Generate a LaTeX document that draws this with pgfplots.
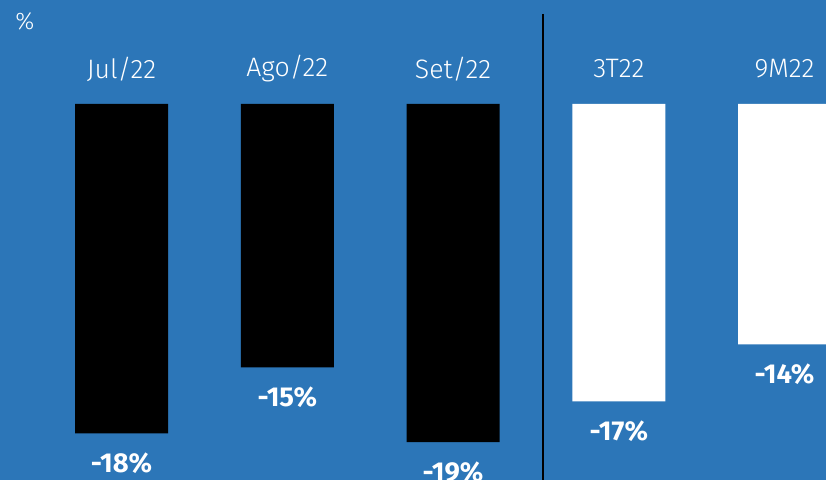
\documentclass[border=0pt]{standalone}
\usepackage{pgfplots}
\pgfplotsset{compat=1.18}
\usepackage{fontspec}
\setmainfont{Fira Sans}
\newfontfamily\lightfont{Fira Sans Light}
\definecolor{bgblue}{RGB}{44,118,184}

\begin{document}
\begin{tikzpicture}
\begin{axis}[
  scale only axis, width=619.5pt, height=360pt,
  xmin=-0.733, xmax=4.25, ymin=-21.124, ymax=5.843,
  axis background/.style={fill=bgblue},
  axis line style={draw=none},
  ytick=\empty,
  xtick={0,...,4},
  xticklabels={Jul/22,Ago/22,Set/22,3T22,9M22},
  xticklabel pos=upper,
  major tick length=0pt,
  x tick label style={anchor=center, yshift=-51.75pt, font=\lightfont\fontsize{20}{24}\selectfont, text=white},
  ybar, bar width=0.561,
  nodes near coords, point meta=explicit symbolic,
  every node near coord/.append style={anchor=center, yshift=-22.5pt, text=white, font=\bfseries\fontsize{20.5}{24}\selectfont},
]
% valores mensais (preto) e acumulados (branco)
\addplot[fill=black, draw=none, bar shift=0pt] coordinates {(0,-18.5)[-18\%] (1,-14.8)[-15\%] (2,-19.0)[-19\%]};
\addplot[fill=white, draw=none, bar shift=0pt] coordinates {(3,-16.7)[-17\%] (4,-13.5)[-14\%]};
\draw[black, line width=1.1pt] (axis cs:2.543,5.056) -- (axis cs:2.543,-21.124);
\node[text=white, font=\lightfont\fontsize{18}{21}\selectfont, anchor=center] at (rel axis cs:0.030,0.955) {\%};
\end{axis}
\pgfresetboundingbox
\path[use as bounding box] (current axis.south west) rectangle (current axis.north east);
\end{tikzpicture}
\end{document}
